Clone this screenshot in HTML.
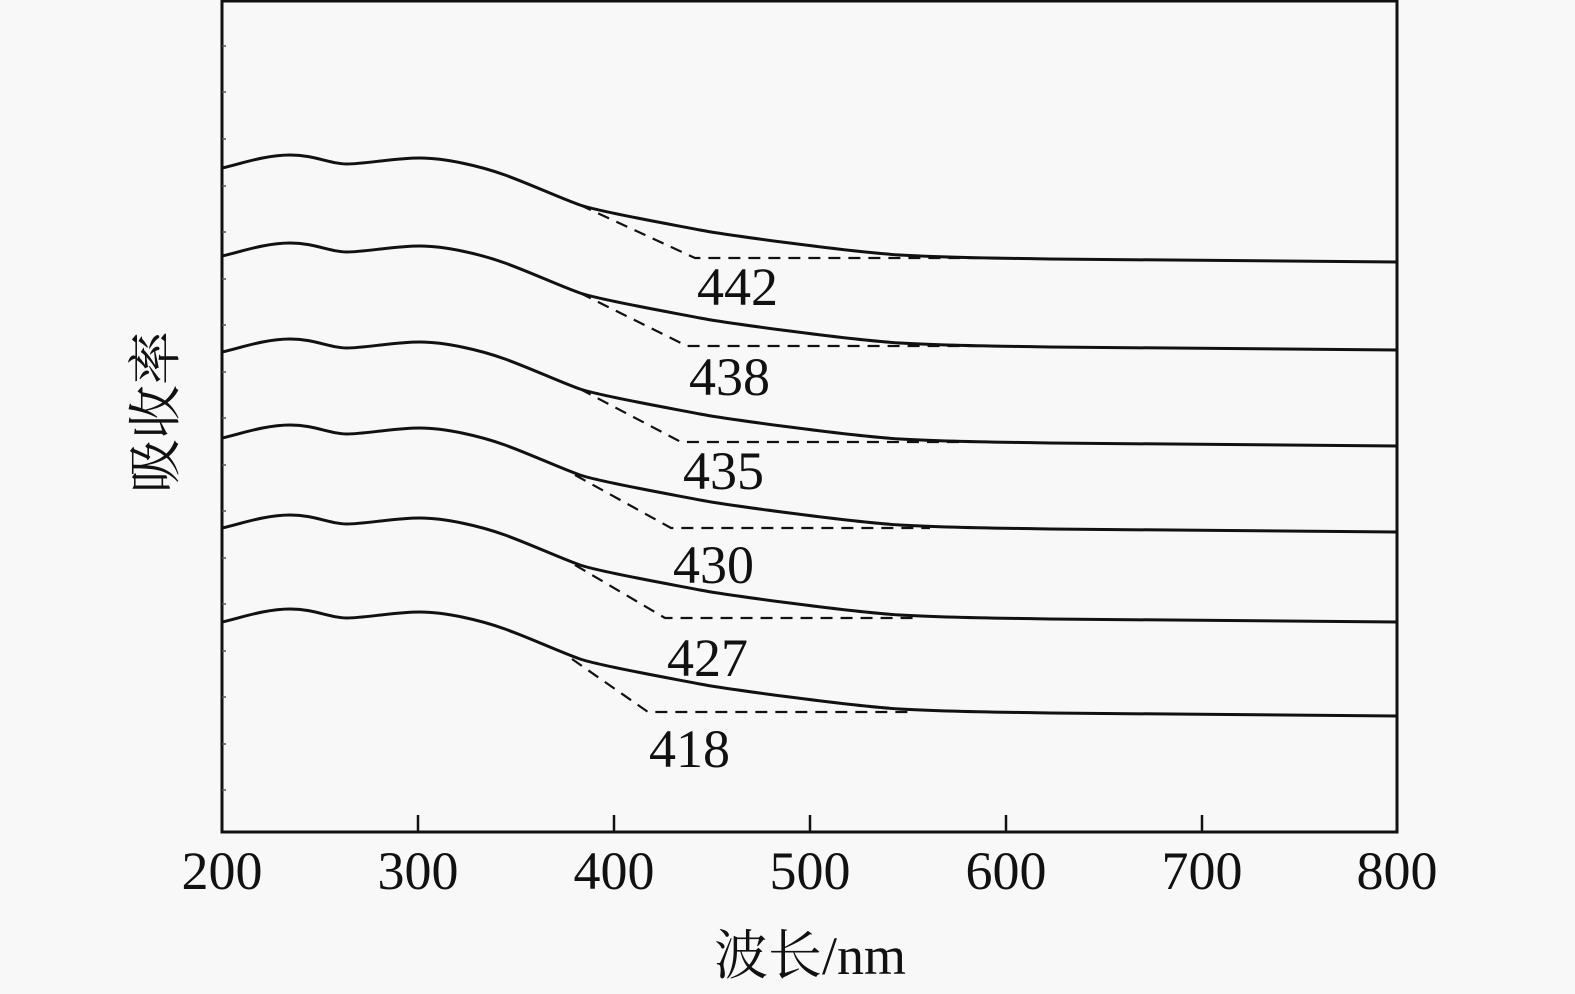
<!DOCTYPE html>
<html><head><meta charset="utf-8"><style>
html,body{margin:0;padding:0;background:#f8f8f8;}
svg{display:block;}
text{font-family:"Liberation Serif","Noto Serif CJK SC",serif;fill:#111;}
</style></head><body>
<svg width="1575" height="994" viewBox="0 0 1575 994" xmlns="http://www.w3.org/2000/svg">
<rect width="1575" height="994" fill="#f8f8f8"/>
<defs>
<path id="c" d="M222,0 C240,-4 265,-13 290,-13 S330,-4 347,-4 S395,-10 420,-10 S480,-2 505,7 S560,30 580,37 S680,58 700,62 S850,84 900,87 S1000,90 1050,91 L1397,94" fill="none" stroke="#111" stroke-width="3"/>
</defs>
<use href="#c" transform="translate(0,168)"/>
<use href="#c" transform="translate(0,256)"/>
<use href="#c" transform="translate(0,352)"/>
<use href="#c" transform="translate(0,438)"/>
<use href="#c" transform="translate(0,528)"/>
<use href="#c" transform="translate(0,622)"/>
<g fill="none" stroke="#111" stroke-width="2.2" stroke-dasharray="12,8">
<path d="M580,205 L695,258 L1000,258"/>
<path d="M580,293 L687,346 L1000,346"/>
<path d="M580,389 L681,442 L960,442"/>
<path d="M575,475 L671,528 L930,528"/>
<path d="M575,565 L665,618 L920,618"/>
<path d="M572,659 L648,712 L910,712"/>
</g>
<g font-size="54">
<text x="697" y="305">442</text>
<text x="689" y="395">438</text>
<text x="683" y="489">435</text>
<text x="673" y="583">430</text>
<text x="667" y="676">427</text>
<text x="649" y="767">418</text>
</g>
<rect x="222" y="1" width="1175" height="831" fill="none" stroke="#111" stroke-width="3"/>
<g stroke="#111" stroke-width="2.5">
<line x1="418" y1="832" x2="418" y2="815"/><line x1="614" y1="832" x2="614" y2="815"/>
<line x1="810" y1="832" x2="810" y2="815"/><line x1="1006" y1="832" x2="1006" y2="815"/>
<line x1="1202" y1="832" x2="1202" y2="815"/>
</g>
<g stroke="#555" stroke-width="1.5">
<line x1="222" y1="46" x2="226" y2="46"/><line x1="222" y1="92" x2="226" y2="92"/><line x1="222" y1="139" x2="226" y2="139"/>
<line x1="222" y1="186" x2="226" y2="186"/><line x1="222" y1="232" x2="226" y2="232"/><line x1="222" y1="279" x2="226" y2="279"/>
<line x1="222" y1="325" x2="226" y2="325"/><line x1="222" y1="372" x2="226" y2="372"/><line x1="222" y1="418" x2="226" y2="418"/>
<line x1="222" y1="465" x2="226" y2="465"/><line x1="222" y1="511" x2="226" y2="511"/><line x1="222" y1="558" x2="226" y2="558"/>
<line x1="222" y1="604" x2="226" y2="604"/><line x1="222" y1="651" x2="226" y2="651"/><line x1="222" y1="697" x2="226" y2="697"/>
<line x1="222" y1="744" x2="226" y2="744"/><line x1="222" y1="790" x2="226" y2="790"/>
</g>
<g font-size="54" text-anchor="middle">
<text x="222" y="889">200</text><text x="418" y="889">300</text><text x="614" y="889">400</text>
<text x="810" y="889">500</text><text x="1006" y="889">600</text><text x="1202" y="889">700</text><text x="1397" y="889">800</text>
</g>
<text x="810" y="974" font-size="54" text-anchor="middle">波长/nm</text>
<text transform="translate(174,412) rotate(-90)" font-size="54" text-anchor="middle">吸收率</text>
</svg>
</body></html>
